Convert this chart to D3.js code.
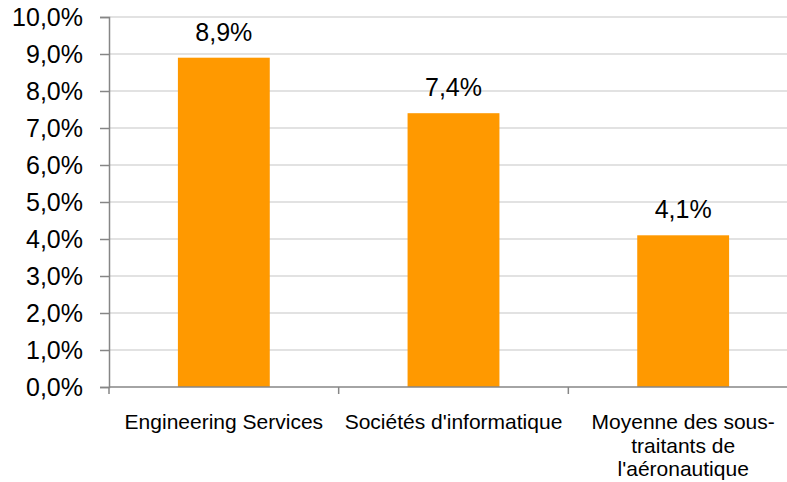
<!DOCTYPE html>
<html>
<head>
<meta charset="utf-8">
<script src="https://cdn.jsdelivr.net/npm/d3@7"></script>
<style>
  body { margin: 0; background: #fff; }
  text { font-family: "Liberation Sans", Arial, sans-serif; fill: #000; }
</style>
</head>
<body>
<svg id="chart" width="787" height="482"></svg>
<script>
const categories = ["Engineering Services", "Sociétés d'informatique", "Moyenne des sous-traitants de l'aéronautique"];
const values = [8.9, 7.4, 4.1];
const yTicks = [0, 1, 2, 3, 4, 5, 6, 7, 8, 9, 10];

const svg = d3.select("#chart"),
    plotLeft = 109,
    plotTop = 17,
    plotBottom = 387,
    plotRight = 798;

const fmt = v => d3.format(".1f")(v).replace(".", ",") + "%";

const x = d3.scaleBand().domain(categories).range([plotLeft, plotRight]).paddingInner(0.6).paddingOuter(0.3);
const y = d3.scaleLinear().domain([0, 10]).range([plotBottom, plotTop]);

// gridlines
svg.append("g")
  .selectAll("line")
  .data(yTicks.slice(1))
  .join("line")
  .attr("x1", plotLeft).attr("x2", 787)
  .attr("y1", d => y(d)).attr("y2", d => y(d))
  .attr("stroke", "#d9d9d9").attr("stroke-width", 1.3);

// y axis
const yAxis = svg.append("g")
  .attr("transform", "translate(" + plotLeft + ",0)")
  .call(d3.axisLeft(y).tickValues(yTicks).tickFormat(fmt).tickSize(9).tickPadding(17));
yAxis.select(".domain").attr("stroke", "#868686").attr("stroke-width", 1.5);
yAxis.selectAll(".tick line").attr("stroke", "#868686").attr("stroke-width", 1.5);
yAxis.selectAll("text").style("font-size", "25px").attr("fill", "#000");

// bars
svg.append("g")
  .selectAll("rect")
  .data(values)
  .join("rect")
  .attr("x", (d, i) => x(categories[i]))
  .attr("y", d => y(d))
  .attr("width", x.bandwidth())
  .attr("height", d => plotBottom - y(d))
  .attr("fill", "#ff9900");

// value labels
svg.append("g")
  .selectAll("text")
  .data(values)
  .join("text")
  .attr("x", (d, i) => x(categories[i]) + x.bandwidth() / 2)
  .attr("y", d => y(d) - 17)
  .attr("text-anchor", "middle")
  .style("font-size", "25px")
  .text(fmt);

// x axis line and ticks
const step = x.step();
const xTicks = [0, 1, 2, 3].map(i => plotLeft + i * step);
svg.append("line")
  .attr("x1", plotLeft).attr("x2", 787)
  .attr("y1", plotBottom).attr("y2", plotBottom)
  .attr("stroke", "#868686").attr("stroke-width", 1.5);
svg.append("g")
  .selectAll("line")
  .data(xTicks)
  .join("line")
  .attr("x1", d => d).attr("x2", d => d)
  .attr("y1", plotBottom).attr("y2", plotBottom + 7)
  .attr("stroke", "#868686").attr("stroke-width", 1.5);

// category labels, wrapped
const wrapWidth = 225;
const labels = svg.append("g")
  .selectAll("text")
  .data(categories)
  .join("text")
  .attr("text-anchor", "middle")
  .style("font-size", "21px")
  .attr("transform", d => "translate(" + (x(d) + x.bandwidth() / 2) + ",429)");

labels.each(function(d) {
  const el = d3.select(this);
  const words = d.replace(/-/g, "- ").split(" ").filter(w => w.length);
  let lines = [], line = "";
  const probe = el.append("tspan");
  words.forEach(w => {
    const sep = line === "" || line.endsWith("-") ? "" : " ";
    const test = line + sep + w;
    probe.text(test);
    if (probe.node().getComputedTextLength() > wrapWidth && line !== "") {
      lines.push(line);
      line = w;
    } else {
      line = test;
    }
  });
  lines.push(line);
  probe.remove();
  lines.forEach((l, i) => {
    el.append("tspan").attr("x", 0).attr("y", i * 23.5).text(l);
  });
});
</script>
</body>
</html>
